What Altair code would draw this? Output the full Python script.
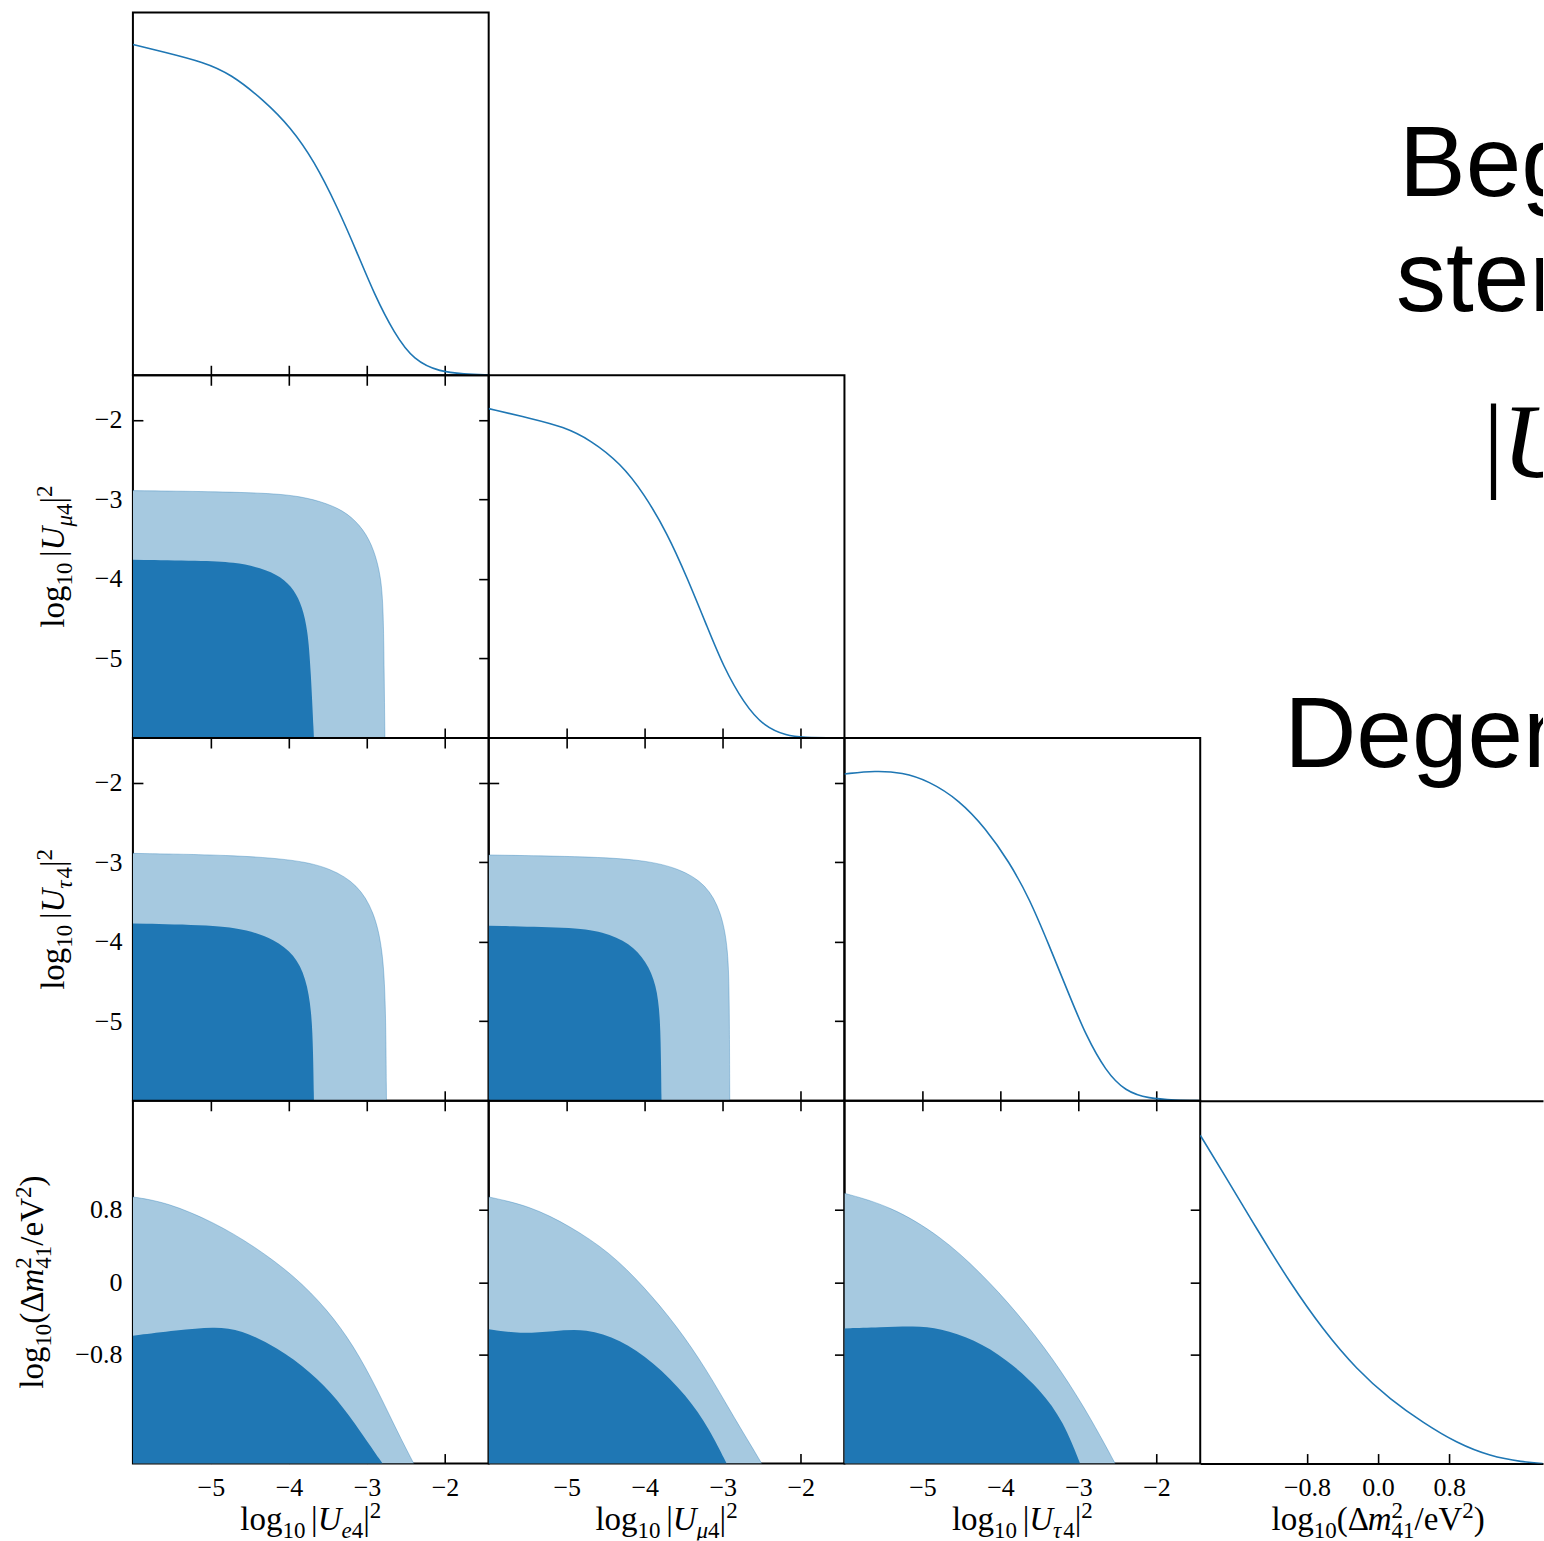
import altair as alt
import pandas as pd

BLUE = "#1f77b4"
LIGHT = "#a6c9e0"
SERIF = "Liberation Serif"
SANS = "Liberation Sans"

PW, PH = 356, 363          # one corner-plot panel
LAST_W = 343               # last column runs off the page edge
LEFT_W = 132               # strip holding the y-axis titles
BOTTOM_H = 77              # strip holding the x-axis titles
FRAME = alt.ViewBackground(stroke="black", strokeWidth=2)

MIX_DOM = [-6.0, -1.44]
MASS_DOM = [-2.0, 2.0]
MASS_DOM_CUT = [-2.0, 1.854]
MIX_TICKS = [-5, -4, -3, -2]
MASS_TICKS = [-0.8, 0.0, 0.8]

# ---- 1D marginal posteriors (diagonal) ----
ue4_x = [-6.00, -5.60, -5.09, -4.75, -4.32, -3.98, -3.68, -3.38, -3.12, -2.91, -2.65, -2.40, -2.06, -1.76, -1.44]
ue4_p = [0.912, 0.891, 0.863, 0.831, 0.758, 0.684, 0.592, 0.464, 0.335, 0.225, 0.115, 0.041, 0.009, 0.004, 0.001]

umu4_x = [-6.00, -5.46, -5.04, -4.69, -4.31, -4.01, -3.71, -3.46, -3.20, -2.99, -2.73, -2.47, -2.17, -2.00, -1.44]
umu4_p = [0.908, 0.881, 0.858, 0.821, 0.757, 0.674, 0.564, 0.444, 0.307, 0.196, 0.096, 0.031, 0.006, 0.002, 0.000]

utau4_x = [-6.00, -5.60, -5.26, -4.92, -4.53, -4.19, -3.89, -3.63, -3.38, -3.12, -2.91, -2.65, -2.40, -2.10, -1.76, -1.44]
utau4_p = [0.901, 0.910, 0.905, 0.882, 0.829, 0.751, 0.659, 0.558, 0.430, 0.292, 0.182, 0.081, 0.026, 0.006, 0.002, 0.000]

dm41_x = [-2.00, -1.74, -1.36, -0.99, -0.62, -0.24, 0.14, 0.51, 0.88, 1.26, 1.63, 1.85]
dm41_p = [0.905, 0.801, 0.645, 0.498, 0.369, 0.259, 0.176, 0.112, 0.057, 0.020, 0.004, 0.000]

# ---- 2D credible regions: outer (light) and inner (dark) boundaries ----
e_mu_light_x = [-6.00, -5.13, -4.28, -3.85, -3.51, -3.25, -3.04, -2.91, -2.82, -2.79, -2.78, -2.77]
e_mu_light_y = [-2.89, -2.90, -2.92, -2.96, -3.05, -3.17, -3.38, -3.63, -3.97, -4.39, -5.14, -6.00]
e_mu_dark_x = [-6.00, -5.13, -4.70, -4.36, -4.10, -3.93, -3.83, -3.76, -3.72, -3.68]
e_mu_dark_y = [-3.76, -3.77, -3.79, -3.86, -3.97, -4.14, -4.35, -4.64, -5.14, -6.00]

e_tau_light_x = [-6.00, -4.75, -3.89, -3.46, -3.12, -2.91, -2.80, -2.76, -2.75]
e_tau_light_y = [-2.89, -2.91, -2.97, -3.08, -3.28, -3.62, -4.08, -4.75, -6.00]
e_tau_dark_x = [-6.00, -4.96, -4.53, -4.19, -3.93, -3.78, -3.71, -3.69, -3.68]
e_tau_dark_y = [-3.77, -3.79, -3.85, -3.97, -4.16, -4.46, -4.87, -5.38, -6.00]

mu_tau_light_x = [-6.00, -4.75, -4.02, -3.55, -3.21, -3.02, -2.93, -2.915, -2.91]
mu_tau_light_y = [-2.91, -2.93, -2.97, -3.08, -3.28, -3.62, -4.08, -4.75, -6.00]
mu_tau_dark_x = [-6.00, -4.96, -4.53, -4.19, -3.98, -3.85, -3.80, -3.79, -3.785]
mu_tau_dark_y = [-3.80, -3.82, -3.87, -4.02, -4.25, -4.54, -4.96, -5.59, -6.00]

e_dm_light_x = [-6.00, -5.56, -4.96, -4.45, -3.93, -3.51, -3.17, -2.87, -2.61, -2.40]
e_dm_light_y = [0.94, 0.88, 0.66, 0.40, 0.07, -0.30, -0.70, -1.18, -1.65, -2.00]
e_dm_dark_x = [-6.00, -5.43, -4.96, -4.62, -4.15, -3.72, -3.38, -3.08, -2.80]
e_dm_dark_y = [-0.59, -0.53, -0.49, -0.52, -0.72, -0.99, -1.29, -1.65, -2.00]

mu_dm_light_x = [-6.00, -5.47, -4.96, -4.45, -4.02, -3.59, -3.21, -2.87, -2.61, -2.50]
mu_dm_light_y = [0.94, 0.84, 0.62, 0.33, -0.04, -0.48, -0.96, -1.47, -1.84, -2.00]
mu_dm_dark_x = [-6.00, -5.60, -5.17, -4.75, -4.32, -3.89, -3.46, -3.17, -2.95]
mu_dm_dark_y = [-0.52, -0.57, -0.54, -0.51, -0.63, -0.88, -1.25, -1.62, -2.00]

tau_dm_light_x = [-6.00, -5.41, -4.77, -4.26, -3.79, -3.32, -2.94, -2.68, -2.53]
tau_dm_light_y = [0.98, 0.84, 0.51, 0.11, -0.33, -0.85, -1.36, -1.76, -2.00]
tau_dm_dark_x = [-6.00, -5.54, -5.11, -4.77, -4.34, -3.92, -3.49, -3.19, -2.98]
tau_dm_dark_y = [-0.51, -0.50, -0.48, -0.51, -0.63, -0.85, -1.18, -1.54, -2.00]


# ---- axes ----
def inward(orient, size, values, domain=False):
    # ticks pointing into the frame: the axis sits on the opposite edge
    return alt.Axis(orient=orient, offset=-size, values=values, labels=False,
                    domain=domain, domainColor="black", domainWidth=2, grid=False,
                    ticks=True, tickSize=10, tickWidth=1.6, tickColor="black", title=None)


def label_axis(orient, values, fmt, padding):
    return alt.Axis(orient=orient, values=values, format=fmt, ticks=False, tickSize=0,
                    domain=False, grid=False, labelFont=SERIF, labelFontSize=26,
                    labelColor="black", labelPadding=padding, labelFlush=False,
                    labelOverlap=False, title=None)


def pair_panel(lx, ly, dx, dy, ydom, yticks, yfmt, xlab, ylab):
    floor = ydom[0]
    light = pd.DataFrame({"x": lx, "y": ly, "b": [floor] * len(lx)})
    dark = pd.DataFrame({"x": dx, "y": dy, "b": [floor] * len(dx)})
    xs = alt.Scale(domain=MIX_DOM, nice=False, zero=False)
    ys = alt.Scale(domain=ydom, nice=False, zero=False)
    outer = alt.Chart(light).mark_area(color=LIGHT, interpolate="basis", clip=True).encode(
        x=alt.X("x:Q", scale=xs, axis=inward("top", PH, MIX_TICKS)),
        y=alt.Y("y:Q", scale=ys, axis=inward("right", PW, yticks)),
        y2="b:Q",
    )
    inner = alt.Chart(dark).mark_area(color=BLUE, interpolate="basis", clip=True).encode(
        x=alt.X("x:Q", scale=xs, axis=inward("bottom", PH, MIX_TICKS)),
        y=alt.Y("y:Q", scale=ys, axis=inward("left", PW, yticks)),
        y2="b:Q",
    )
    xa = label_axis("bottom", MIX_TICKS, "d", 11) if xlab else None
    ya = label_axis("left", yticks, yfmt, 11) if ylab else None
    edge = alt.Chart(light).mark_line(color=BLUE, strokeWidth=1, opacity=0.35,
                                      interpolate="basis", clip=True).encode(
        x=alt.X("x:Q", scale=xs, axis=xa),
        y=alt.Y("y:Q", scale=ys, axis=ya),
    )
    return (alt.layer(outer, inner, edge)
            .resolve_axis(x="independent", y="independent")
            .properties(width=PW, height=PH, view=FRAME))


def diag_panel(x, p, dom, width, ticks, fmt="d", labelled=False):
    df = pd.DataFrame({"x": x, "p": p})
    xs = alt.Scale(domain=dom, nice=False, zero=False)
    ys = alt.Scale(domain=[0, 1], nice=False, zero=False)

    def curve(axis, opacity):
        return alt.Chart(df).mark_line(color=BLUE, strokeWidth=1.6, interpolate="basis",
                                       clip=True, opacity=opacity).encode(
            x=alt.X("x:Q", scale=xs, axis=axis),
            y=alt.Y("p:Q", scale=ys, axis=None),
        )

    if not labelled:
        return curve(inward("top", PH, ticks), 1).properties(width=width, height=PH, view=FRAME)
    top_edge = alt.Axis(orient="bottom", offset=-PH, ticks=False, labels=False, domain=True,
                        domainColor="black", domainWidth=2, grid=False, title=None)
    return (alt.layer(curve(inward("top", PH, ticks, domain=True), 1),
                      curve(label_axis("bottom", ticks, fmt, 11), 0),
                      curve(top_edge, 0))
            .resolve_axis(x="independent")
            .properties(width=width, height=PH))


# ---- typeset labels ----
ROMAN_W = {"l": .278, "o": .5, "g": .5, "|": .2, "(": .333, ")": .333, "/": .278,
           "e": .444, "V": .722, "Δ": .612}
ITALIC_W = {"U": .722, "e": .444, "μ": .5, "τ": .44, "m": .722}
S, s = 33, 23          # main and script sizes
SUB, SUP = 8, -12      # script baseline shifts


def run_width(text, italic, size):
    table = ITALIC_W if italic else ROMAN_W
    return sum(table.get(ch, 0.5) for ch in text) * size


def log_abs(flavour):
    return [("log", False, S, 0, None), ("10", False, s, SUB, None), ("", False, S, 0, 0.17 * S),
            ("|", False, S, 0, None), ("U", True, S, 0, None), (flavour, True, s, SUB, None),
            ("4", False, s, SUB, None), ("|", False, S, 0, None), ("2", False, s, SUP, None)]


def log_mass():
    return [("log", False, S, 0, None), ("10", False, s, SUB, None), ("(", False, S, 0, None),
            ("Δ", False, S, 0, None), ("m", True, S, 0, None), ("2", False, s, SUP, 0),
            ("41", False, s, SUB, None), ("/", False, S, 0, None), ("eV", False, S, 0, None),
            ("2", False, s, SUP, None), (")", False, S, 0, None)]


def math_title(pieces, center, base, vertical):
    widths = [adv if adv is not None else run_width(t, it, sz) for (t, it, sz, sh, adv) in pieces]
    total = sum(widths)
    rows, pos = [], 0.0
    for (t, it, sz, sh, adv), w in zip(pieces, widths):
        if t:
            face = "serif-italic" if it else "serif"
            if vertical:
                rows.append({"t": t, "face": face, "fs": sz, "px": base + sh, "py": center + total / 2 - pos})
            else:
                rows.append({"t": t, "face": face, "fs": sz, "px": center - total / 2 + pos, "py": base + sh})
        pos += w
    return rows


FACES = {"serif": (SERIF, "normal"), "serif-italic": (SERIF, "italic"), "sans": (SANS, "normal")}


def text_panel(rows, width, height, angle=0):
    df = pd.DataFrame(rows)
    layers = []
    for face, (font, style) in FACES.items():
        if not (df["face"] == face).any():
            continue
        layers.append(
            alt.Chart(df).transform_filter(alt.datum.face == face).mark_text(
                font=font, fontStyle=style, align="left", baseline="alphabetic",
                angle=angle, color="black", clip=True,
            ).encode(
                x=alt.X("px:Q", scale=None, axis=None),
                y=alt.Y("py:Q", scale=None, axis=None),
                size=alt.Size("fs:Q", scale=None, legend=None),
                text="t:N",
            )
        )
    return alt.layer(*layers).properties(width=width, height=height)


def blank(width, height):
    return text_panel([{"t": "", "face": "serif", "fs": 10, "px": width / 2, "py": height / 2}], width, height)


# ---- panels ----
d1 = diag_panel(ue4_x, ue4_p, MIX_DOM, PW, MIX_TICKS)
d2 = diag_panel(umu4_x, umu4_p, MIX_DOM, PW, MIX_TICKS)
d3 = diag_panel(utau4_x, utau4_p, MIX_DOM, PW, MIX_TICKS)
d4 = diag_panel(dm41_x, dm41_p, MASS_DOM_CUT, LAST_W, MASS_TICKS, fmt=".1f", labelled=True)

p21 = pair_panel(e_mu_light_x, e_mu_light_y, e_mu_dark_x, e_mu_dark_y,
                 MIX_DOM, MIX_TICKS, "d", False, True)
p31 = pair_panel(e_tau_light_x, e_tau_light_y, e_tau_dark_x, e_tau_dark_y,
                 MIX_DOM, MIX_TICKS, "d", False, True)
p32 = pair_panel(mu_tau_light_x, mu_tau_light_y, mu_tau_dark_x, mu_tau_dark_y,
                 MIX_DOM, MIX_TICKS, "d", False, False)
p41 = pair_panel(e_dm_light_x, e_dm_light_y, e_dm_dark_x, e_dm_dark_y,
                 MASS_DOM, MASS_TICKS, "~g", True, True)
p42 = pair_panel(mu_dm_light_x, mu_dm_light_y, mu_dm_dark_x, mu_dm_dark_y,
                 MASS_DOM, MASS_TICKS, "~g", True, False)
p43 = pair_panel(tau_dm_light_x, tau_dm_light_y, tau_dm_dark_x, tau_dm_dark_y,
                 MASS_DOM, MASS_TICKS, "~g", True, False)

ylab2 = text_panel(math_title(log_abs("μ"), PH / 2, 63, True), LEFT_W, PH, angle=270)
ylab3 = text_panel(math_title(log_abs("τ"), PH / 2, 63, True), LEFT_W, PH, angle=270)
ylab4 = text_panel(math_title(log_mass(), PH / 2, 42, True), LEFT_W, PH, angle=270)

xlab1 = text_panel(math_title(log_abs("e"), PW / 2, 66, False), PW, BOTTOM_H)
xlab2 = text_panel(math_title(log_abs("μ"), PW / 2, 66, False), PW, BOTTOM_H)
xlab3 = text_panel(math_title(log_abs("τ"), PW / 2, 66, False), PW, BOTTOM_H)
xlab4 = text_panel(math_title(log_mass(), PW / 2, 66, False), LAST_W, BOTTOM_H)

# slide text running off the right edge
note1 = text_panel([{"t": "Beg", "face": "sans", "fs": 100, "px": 199, "py": 184},
                    {"t": "ster", "face": "sans", "fs": 100, "px": 196, "py": 299}],
                   LAST_W, PH)
note2 = text_panel([{"t": "|", "face": "serif", "fs": 105, "px": 283, "py": 102},
                    {"t": "U", "face": "serif-italic", "fs": 105, "px": 302, "py": 102},
                    {"t": "Degen", "face": "sans", "fs": 100, "px": 84, "py": 392}],
                   LAST_W, PH)
note3 = text_panel([{"t": "Degen", "face": "sans", "fs": 100, "px": 84, "py": 29}],
                   LAST_W, PH)

cells = [
    blank(LEFT_W, PH), d1, blank(PW, PH), blank(PW, PH), note1,
    ylab2, p21, d2, blank(PW, PH), note2,
    ylab3, p31, p32, d3, note3,
    ylab4, p41, p42, p43, d4,
    blank(LEFT_W, BOTTOM_H), xlab1, xlab2, xlab3, xlab4,
]

chart = (
    alt.concat(*cells, columns=5, spacing=0, bounds="flush")
    .properties(padding={"left": 0, "top": 11, "right": 0, "bottom": 0}, background="white")
    .configure_view(stroke="transparent")
)

chart.save("out.html", embed_options={"renderer": "svg", "actions": False})
